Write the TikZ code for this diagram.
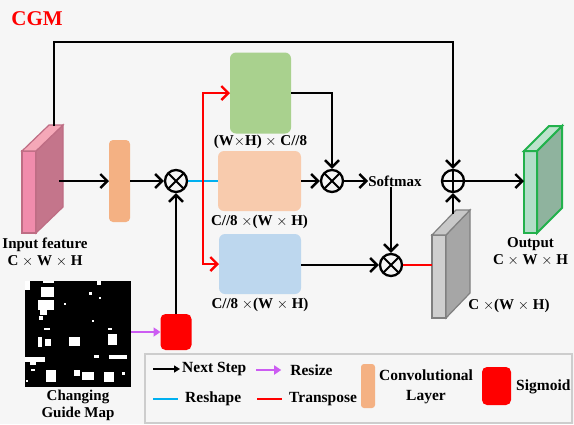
\documentclass[tikz,border=0pt]{standalone}
\usepackage{fontspec}
\setmainfont{Liberation Serif}
\usepackage{xcolor}
\usepackage{tikz}
\usetikzlibrary{arrows.meta,calc,positioning}
\definecolor{cgmbg}{HTML}{F6F6F6}
\definecolor{cgmred}{HTML}{FF0000}
\definecolor{cgmcyan}{HTML}{00B0F0}
\definecolor{cgmmagenta}{HTML}{CC5CF2}
\definecolor{cgmconv}{HTML}{F4B183}
\definecolor{cgmgreen}{HTML}{A9D18E}
\definecolor{cgmpeach}{HTML}{F8CBAD}
\definecolor{cgmblue}{HTML}{BDD7EE}
\definecolor{cgminfront}{HTML}{F08CAC}
\definecolor{cgminside}{HTML}{C4758B}
\definecolor{cgmintop}{HTML}{F5A8B8}
\definecolor{cgminedge}{HTML}{BE6D84}
\definecolor{cgmoutfront}{HTML}{B2DEC8}
\definecolor{cgmoutside}{HTML}{8FB39E}
\definecolor{cgmouttop}{HTML}{BDE3CD}
\definecolor{cgmoutedge}{HTML}{22B14C}
\definecolor{cgmvalfront}{HTML}{CFCFCF}
\definecolor{cgmvalside}{HTML}{A6A6A6}
\definecolor{cgmvaltop}{HTML}{C8C8C8}
\definecolor{cgmvaledge}{HTML}{808080}
\definecolor{cgmframe}{HTML}{CDCDCD}
\tikzset{%
  cgmtext/.style={%
    font=\fontsize{15}{17}\selectfont\bfseries,
    inner sep=0pt,
    align=center
  },
  cgmlegend/.style={%
    font=\fontsize{15.5}{20}\selectfont\bfseries,
    inner sep=0pt,
    align=center
  },
  cgmbox/.style={%
    rounded corners=6pt,
    inner sep=0pt,
    outer sep=0pt
  },
  cgmface/.style={%
    draw,
    line width=1.2pt,
    inner sep=0pt,
    outer sep=0pt
  },
  cgmop/.style={%
    circle,
    draw,
    fill=cgmbg,
    line width=2.3pt,
    minimum size=22pt,
    inner sep=0pt
  },
  cgmtimes/.style={%
    cgmop,
    path picture={\draw[line width=2pt]
      (path picture bounding box.north west) -- (path picture bounding box.south east)
      (path picture bounding box.north east) -- (path picture bounding box.south west);}
  },
  cgmplus/.style={%
    cgmop,
    path picture={\draw[line width=2pt]
      (path picture bounding box.north) -- (path picture bounding box.south)
      (path picture bounding box.east) -- (path picture bounding box.west);}
  },
  cgmarrow/.style={line width=2.6pt,arrows={-Straight Barb[length=7pt,width=14pt,line width=2.4pt]}},
  cgmredarrow/.style={cgmarrow,draw=cgmred},
  cgmtranspose/.style={line width=2.4pt,draw=cgmred},
  cgmreshape/.style={line width=2.4pt,draw=cgmcyan},
  cgmresize/.style={line width=2.2pt,draw=cgmmagenta,arrows={-Triangle[length=7pt,width=9pt]}},
  cgmnext/.style={line width=2.2pt,arrows={-Triangle[length=6pt,width=7pt]}}
}

\begin{document}
\begin{tikzpicture}[x=1pt,y=-1pt,node distance=3pt]
  \useasboundingbox (0,0) rectangle (574,424);
  \fill[cgmbg] (0,0) rectangle (574,424);
  \node[cgmtext,text=cgmred,font=\fontsize{21}{21}\selectfont\bfseries] (title) at (37,19) {CGM};

  % input feature
  \node[cgmface,draw=cgminedge,fill=cgminfront,minimum width=14pt,minimum height=82pt] (infeat) at (29,192) {};
  \draw[line width=1.2pt,draw=cgminedge,fill=cgminside] (infeat.north east) -- ++(27,-26) -- ++(0,82) -- (infeat.south east) -- cycle;
  \draw[line width=1.2pt,draw=cgminedge,fill=cgmintop] (infeat.north west) -- ++(27,-26) -- ++(14,0) -- (infeat.north east) -- cycle;
  \node[cgmtext,anchor=north] (inlabel) at (45,238) {Input feature\\C $\times$ W $\times$ H};
  \coordinate (skip) at (54,126);
  \coordinate (inout) at (59,181);

  \node[cgmbox,fill=cgmconv,rounded corners=4pt,minimum width=21pt,minimum height=82pt] (conv) at (119.5,181) {};
  \node[cgmtimes] (prod1) at (176,181) {};

  % attention branches
  \node[cgmbox,fill=cgmgreen,minimum width=61pt,minimum height=81pt] (key) at (260.5,93) {};
  \node[cgmtext,below=1pt of key] (keylabel) {(W$\times$H) $\times$ C//8};
  \node[cgmbox,fill=cgmpeach,minimum width=83pt,minimum height=60pt] (query) at (259.5,181) {};
  \node[cgmtext,below=4pt of query] (querylabel) {C//8 $\times$(W $\times$ H)};
  \node[cgmbox,fill=cgmblue,minimum width=82pt,minimum height=60pt] (value) at (260,264) {};
  \node[cgmtext,below=4pt of value] (valuelabel) {C//8 $\times$(W $\times$ H)};
  \coordinate (split) at (203,181);

  \node[cgmtimes] (prod2) at (332,181) {};
  \node[cgmtext] (softmax) at (395,181) {Softmax};
  \node[cgmtimes] (prod3) at (391,265) {};

  \node[cgmface,draw=cgmvaledge,fill=cgmvalfront,minimum width=14pt,minimum height=83pt] (valfeat) at (439,276.5) {};
  \draw[line width=1.2pt,draw=cgmvaledge,fill=cgmvalside] (valfeat.north east) -- ++(24,-25) -- ++(0,83) -- (valfeat.south east) -- cycle;
  \draw[line width=1.2pt,draw=cgmvaledge,fill=cgmvaltop] (valfeat.north west) -- ++(24,-25) -- ++(14,0) -- (valfeat.north east) -- cycle;
  \node[cgmtext] (vallabel) at (509,306) {C $\times$(W $\times$ H)};
  \coordinate (valout) at (453,214);

  \node[cgmplus] (sum) at (453,181) {};

  % output feature
  \node[cgmface,line width=2pt,draw=cgmoutedge,fill=cgmoutfront,minimum width=13pt,minimum height=82pt] (outfeat) at (530.5,192) {};
  \draw[line width=2pt,draw=cgmoutedge,fill=cgmoutside] (outfeat.north east) -- ++(25,-25) -- ++(0,82) -- (outfeat.south east) -- cycle;
  \draw[line width=2pt,draw=cgmoutedge,fill=cgmouttop] (outfeat.north west) -- ++(25,-25) -- ++(13,0) -- (outfeat.north east) -- cycle;
  \node[cgmtext,below=4pt of outfeat] (outlabel) {Output\\C $\times$ W $\times$ H};

  % changing guide map
  \node[fill=black,inner sep=0pt,minimum width=106pt,minimum height=106pt] (guide) at (78,334) {};
  \foreach \xa/\ya/\xb/\yb in {25/281/30/290,43/281/54/283,41/287/54/297,38/300/54/310,40/310/47/315,39/316/43/320,
    97/281/101/285,89/292/92/295,44/328/50/330,92/320/94/322,108/328/112/330,38/337/42/347,45/339/51/346,
    69/337/80/346,108/334/117/345,25/357/45/362,30/362/36/365,94/355/99/358,109/355/127/359,46/370/56/382,
    74/370/80/376,82/372/94/380,104/372/114/382,122/372/125/375,31/369/35/371,26/380/28/382,64/303/66/305,99/297/101/299}
    \fill[white] (\xa,\ya) rectangle (\xb,\yb);
  \node[cgmtext,below=3pt of guide] (guidelabel) {Changing\\Guide Map};
  \node[cgmbox,fill=cgmred,rounded corners=5pt,minimum width=31pt,minimum height=36pt] (sigm) at (176,332) {};

  \draw[cgmarrow] (skip) -- ++(0,-84) -| (sum.north);
  \draw[cgmarrow] (inout) -- (conv.west);
  \draw[cgmarrow] (conv.east) -- (prod1.west);
  \draw[cgmarrow] (sigm.north) -- (prod1.south);
  \draw[cgmresize] (guide.east |- sigm.west) -- (sigm.west);
  \draw[cgmreshape] (prod1.east) -- (query.west);
  \draw[cgmredarrow] (split) |- (key.west);
  \draw[cgmredarrow] (split) |- (value.west);
  \draw[cgmarrow] (key.east) -| (prod2.north);
  \draw[cgmarrow] (query.east) -- (prod2.west);
  \draw[cgmarrow] (prod2.east) -- (softmax.west);
  \draw[cgmarrow] (softmax.south -| prod3.north) -- (prod3.north);
  \draw[cgmarrow] (value.east |- prod3.west) -- (prod3.west);
  \draw[cgmtranspose] (prod3.east) -- (prod3.east -| valfeat.west);
  \draw[cgmarrow] (valout) -- (sum.south);
  \draw[cgmarrow] (sum.east) -- (sum.east -| outfeat.west);

  % legend
  \node[draw=cgmframe,line width=2pt,inner sep=0pt,minimum width=427pt,minimum height=69pt] (legend) at (358.5,388.5) {};
  \node[cgmlegend,anchor=west] (lnext) at (182,369) {Next Step};
  \draw[cgmnext] ($(lnext.west)+(-29,0)$) -- ($(lnext.west)+(-2,0)$);
  \node[cgmlegend] (lresize) at (311.5,370) {Resize};
  \draw[cgmresize] ($(lresize.west)+(-34,0)$) -- ($(lresize.west)+(-9,0)$);
  \node[cgmlegend,anchor=west] (lreshape) at (185,399) {Reshape};
  \draw[cgmreshape] ($(lreshape.west)+(-32,0)$) -- ($(lreshape.west)+(-7,0)$);
  \node[cgmlegend,anchor=west] (ltrans) at (289,399) {Transpose};
  \draw[cgmtranspose] ($(ltrans.west)+(-32,0)$) -- ($(ltrans.west)+(-7,0)$);
  \node[cgmbox,fill=cgmconv,rounded corners=3pt,minimum width=14pt,minimum height=44pt] (lconvbox) at (368,386) {};
  \node[cgmlegend] (lconv) at (426,387) {Convolutional\\Layer};
  \node[cgmbox,fill=cgmred,rounded corners=5pt,minimum width=29pt,minimum height=38pt] (lsigmbox) at (496.5,386) {};
  \node[cgmlegend,anchor=west] (lsigm) at (516,387) {Sigmoid};
\end{tikzpicture}
\end{document}
